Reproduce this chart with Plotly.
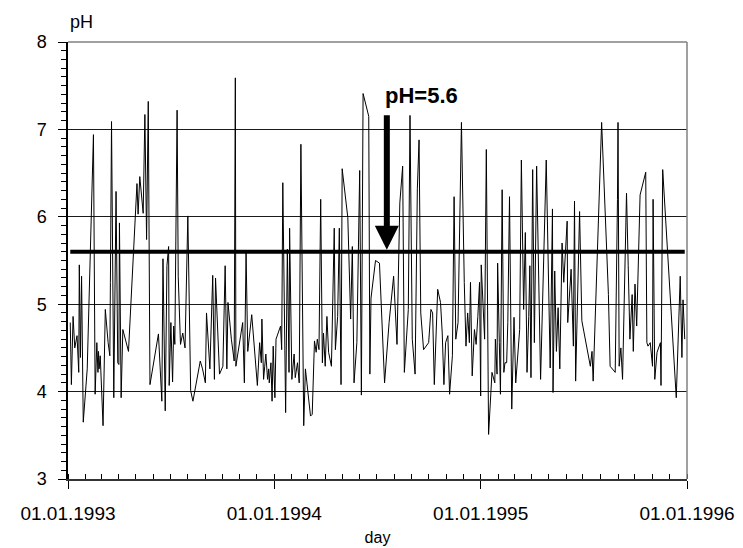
import pandas as pd
import plotly.graph_objects as go

# Sampling day (days after 01.01.1993) and measured pH of each precipitation sample
day = [
    4, 6, 9, 12, 16, 19, 20, 22, 24, 27, 34, 45, 48, 51, 53, 54, 55, 57, 62, 66,
    71, 74, 75, 77, 81, 85, 88, 90, 91, 93, 94, 97, 103, 107, 122, 124, 127, 133, 136, 139,
    142, 145, 160, 166, 168, 172, 175, 178, 179, 182, 185, 187, 189, 193, 195, 199, 203, 207, 212, 217,
    221, 234, 238, 243, 245, 251, 256, 259, 261, 268, 274, 278, 281, 283, 289, 294, 296, 297, 309, 312,
    315, 318, 325, 335, 339, 342, 343, 346, 348, 350, 353, 355, 356, 359, 361, 363, 366, 368,
    376, 378, 380, 385, 388, 391, 392, 396, 400, 402, 406, 409, 412, 417, 420, 426, 429, 432, 436, 439,
    441, 444, 447, 450, 452, 455, 458, 461, 466, 471, 473, 477, 480, 483, 485, 495, 500, 503, 506, 511,
    516, 519, 522, 532, 534, 536, 544, 551, 556, 560, 568, 576, 582, 587, 592, 595, 602, 605, 609, 614,
    618, 621, 624, 629, 638, 642, 645, 648, 654, 659, 662, 665, 668, 672, 675, 680, 683, 686, 690, 696,
    701, 704, 707, 710, 712, 715, 719, 722, 725, 728, 730,
    731, 737, 740, 744, 750, 755, 756, 759, 760, 763, 765, 768, 771, 773, 776, 778, 781, 785, 789, 792,
    799, 802, 806, 809, 812, 815, 817, 819, 822, 825, 829, 836, 846, 853, 857, 858, 861, 864, 867, 870,
    874, 877, 883, 884, 890, 894, 896, 898, 905, 909, 924, 927, 929, 944, 956, 959, 968, 972, 973, 975,
    978, 981, 988, 991, 994, 998, 1000, 1003, 1006, 1012, 1022, 1024, 1026, 1030, 1034, 1035, 1038, 1042, 1048, 1049,
    1052, 1076, 1083, 1086, 1088, 1091,
]

ph = [
    4.79, 4.08, 4.86, 4.50, 4.64, 4.22, 5.45, 4.39, 5.32, 3.65, 4.26, 6.94, 3.97, 4.56, 4.22, 4.46, 4.26, 4.41, 3.61, 4.94,
    4.56, 4.41, 5.25, 7.09, 3.93, 6.29, 4.33, 4.31, 5.93, 4.07, 3.93, 4.71, 4.56, 4.46, 6.38, 6.03, 6.46, 6.04, 7.17, 5.74,
    7.32, 4.08, 4.66, 3.89, 5.52, 3.78, 5.44, 5.66, 4.07, 4.79, 4.11, 4.75, 4.54, 7.22, 5.32, 4.54, 4.67, 4.50, 6.01, 4.01,
    3.89, 4.35, 4.26, 4.10, 4.90, 4.26, 5.33, 4.14, 5.30, 4.20, 4.29, 5.44, 4.26, 5.02, 4.60, 4.35, 7.59, 4.29, 4.79, 4.10,
    5.59, 4.46, 4.88, 4.07, 4.56, 4.33, 4.83, 4.14, 4.29, 4.43, 4.14, 4.26, 4.10, 4.33, 3.89, 4.52, 3.93, 4.60,
    4.75, 4.48, 6.39, 3.76, 5.63, 4.22, 5.87, 4.14, 4.43, 4.16, 4.33, 4.10, 6.83, 3.61, 4.26, 3.87, 3.72, 3.74, 4.58, 4.45,
    4.60, 4.48, 6.20, 4.33, 4.67, 4.29, 4.86, 4.45, 4.29, 5.87, 4.48, 4.86, 5.87, 4.08, 6.55, 5.99, 4.83, 5.66, 4.10, 4.56,
    6.53, 3.96, 7.41, 7.15, 4.20, 5.07, 5.50, 5.47, 4.71, 4.10, 4.79, 5.32, 4.54, 6.16, 6.58, 4.22, 4.94, 7.16, 4.60, 4.20,
    6.32, 6.88, 4.90, 4.48, 4.56, 4.94, 4.90, 4.08, 5.17, 5.02, 4.67, 4.08, 4.56, 4.64, 3.97, 4.41, 6.23, 4.60, 4.79, 7.08,
    5.25, 4.52, 4.90, 4.56, 5.25, 4.18, 4.71, 4.54, 4.86, 5.25, 3.95,
    5.45, 4.60, 6.77, 3.51, 4.22, 4.10, 4.60, 4.20, 5.47, 4.56, 3.97, 6.31, 4.22, 4.33, 4.33, 4.79, 6.23, 3.80, 4.85, 4.10,
    4.71, 6.65, 4.94, 5.82, 4.22, 4.86, 5.44, 4.16, 6.54, 4.56, 6.58, 4.14, 6.65, 4.27, 6.09, 3.99, 5.38, 4.46, 4.96, 4.26,
    5.70, 5.25, 5.95, 4.79, 5.40, 4.52, 6.18, 4.12, 6.06, 4.81, 4.29, 4.46, 4.12, 7.08, 5.11, 4.29, 4.22, 6.20, 7.08, 4.29,
    4.50, 4.14, 6.27, 5.44, 4.60, 5.11, 4.46, 5.23, 4.75, 6.25, 6.51, 4.56, 4.52, 4.56, 4.29, 6.20, 4.14, 4.45, 4.56, 4.07,
    6.54, 3.93, 5.32, 4.39, 5.05, 4.60,
]

PH_NATURAL = 5.6  # pH of clean rain water in equilibrium with atmospheric CO2
YEAR_TICKS = ["1993-01-01", "1994-01-01", "1995-01-01", "1996-01-01"]

dates = pd.Timestamp("1993-01-01") + pd.to_timedelta(day, unit="D")

fig = go.Figure()

fig.add_trace(go.Scatter(
    x=dates, y=ph, mode="lines",
    line=dict(color="black", width=1),
    showlegend=False, hoverinfo="x+y",
))

# Reference level pH = 5.6 across the sampling period
fig.add_trace(go.Scatter(
    x=[dates[0], dates[-1]], y=[PH_NATURAL, PH_NATURAL], mode="lines",
    line=dict(color="black", width=4),
    showlegend=False, hoverinfo="skip",
))

font_main = dict(family="Liberation Sans, Arial, sans-serif", color="black")

fig.update_layout(
    width=743, height=548,
    margin=dict(l=68, r=56, t=42, b=69),
    paper_bgcolor="white", plot_bgcolor="white",
    font=dict(size=18, **font_main),
    xaxis=dict(
        type="date",
        range=[YEAR_TICKS[0], YEAR_TICKS[-1]],
        tickvals=YEAR_TICKS,
        tickformat="%d.%m.%Y",
        tickfont=dict(size=19),
        ticks="outside", ticklen=8, tickcolor="black", tickwidth=1,
        ticklabelstandoff=8,
        minor=dict(ticks="inside", dtick="M1", tick0="1993-01-01",
                   ticklen=5, tickcolor="black", tickwidth=1, showgrid=False),
        showline=True, linecolor="#333333", linewidth=1.5,
        showgrid=False, zeroline=False, automargin=False,
        title=dict(text="day", font=dict(size=16), standoff=9),
    ),
    yaxis=dict(
        range=[3, 8], dtick=1, tick0=3,
        tickfont=dict(size=18),
        ticks="outside", ticklen=8, tickcolor="black", tickwidth=1,
        ticklabelstandoff=8,
        minor=dict(ticks="outside", dtick=0.1, ticklen=5,
                   tickcolor="black", tickwidth=1, showgrid=False),
        showline=True, linecolor="black", linewidth=1.5,
        showgrid=True, gridcolor="#1a1a1a", gridwidth=1,
        zeroline=False, automargin=False,
    ),
    shapes=[
        dict(type="line", xref="paper", yref="paper", x0=0, x1=1, y0=1, y1=1,
             line=dict(color="#808080", width=1.5)),
        dict(type="line", xref="paper", yref="paper", x0=1, x1=1, y0=0, y1=1,
             line=dict(color="#808080", width=1.5)),
    ],
    annotations=[
        dict(text="pH", xref="paper", yref="paper", x=0.0, y=1.0,
             xanchor="left", yanchor="bottom", yshift=8, showarrow=False,
             font=dict(size=18)),
        # arrow pointing at the reference level
        dict(text="", x="1994-07-19", y=PH_NATURAL, xref="x", yref="y",
             ax="1994-07-19", ay=7.18, axref="x", ayref="y",
             showarrow=True, arrowhead=2, arrowsize=0.8, arrowwidth=6,
             arrowcolor="black", standoff=2),
        dict(text="<b>pH=5.6</b>", x="1994-09-18", y=7.39, xref="x", yref="y",
             showarrow=False, font=dict(size=22)),
    ],
)

fig.write_html("out.html")
